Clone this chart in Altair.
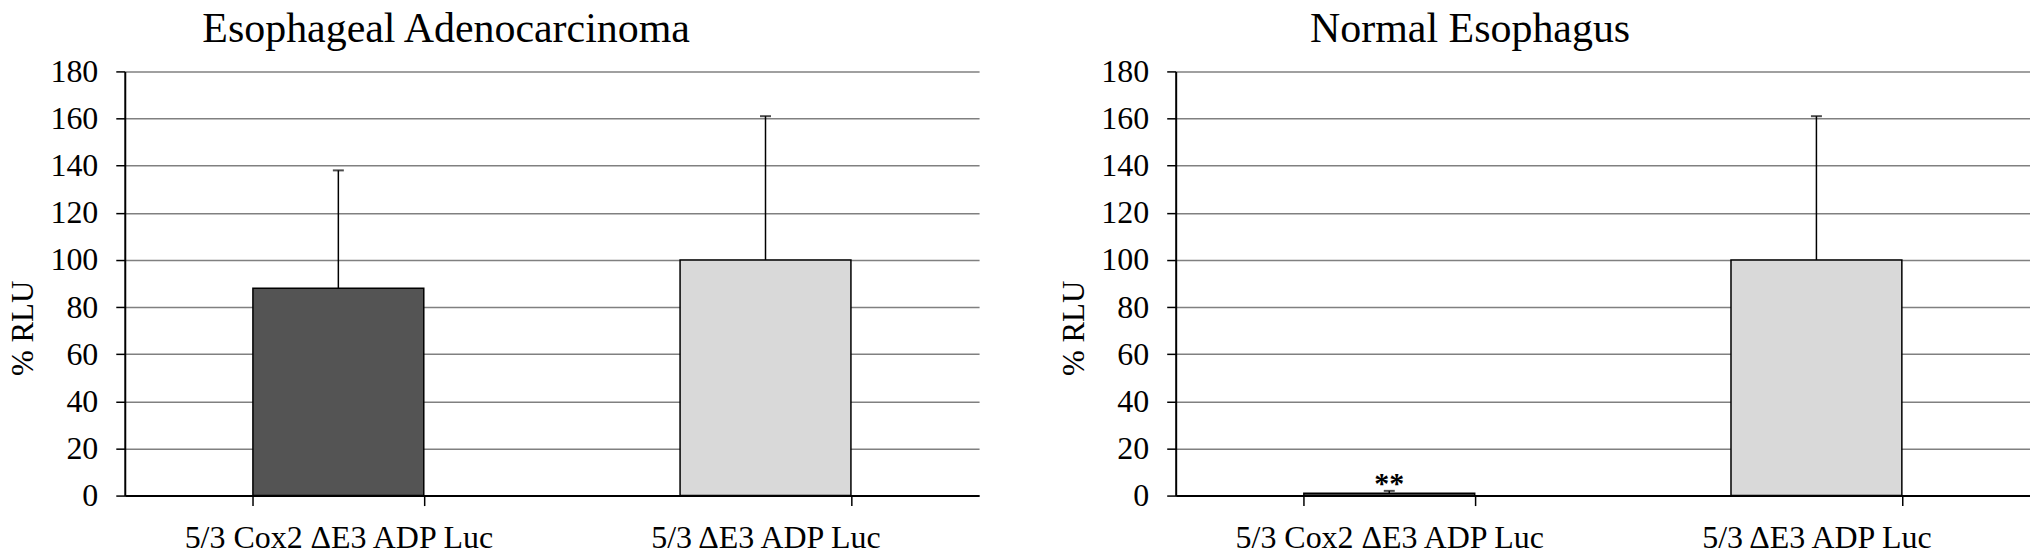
import altair as alt
import pandas as pd

categories = ["5/3 Cox2 \u0394E3 ADP Luc", "5/3 \u0394E3 ADP Luc"]
panel_titles = ["Esophageal Adenocarcinoma", "Normal Esophagus"]
adeno_values = [88, 100]
adeno_err = [50, 61]
normal_values = [1, 100]
normal_err = [1, 61]
adeno_marks = ["", ""]
normal_marks = ["**", ""]
bar_colors = ["#545454", "#d9d9d9"]
y_ticks = [0, 20, 40, 60, 80, 100, 120, 140, 160, 180]

FONT = "Liberation Serif, Times New Roman, Times, serif"


def panel(title, values, errs, marks, title_dx):
    df = pd.DataFrame({
        "cat": categories,
        "value": values,
        "top": [v + e for v, e in zip(values, errs)],
        "mark": marks,
    })
    base = alt.Chart(df)
    x = alt.X(
        "cat:N", sort=categories,
        scale=alt.Scale(paddingInner=0.6, paddingOuter=0.3),
        axis=alt.Axis(title=None, labelAngle=0, tickBand="extent", grid=False,
                      domainColor="black", domainWidth=2, tickColor="black",
                      tickWidth=1.5, tickSize=10, labelFontSize=32, labelLimit=0,
                      labelPadding=17, labelColor="black", labelFont=FONT),
    )
    y = alt.Y(
        "value:Q",
        scale=alt.Scale(domain=[0, 180], nice=False),
        axis=alt.Axis(values=y_ticks, title="% RLU", titleFont=FONT,
                      titleFontSize=31, titleFontWeight="normal", titleColor="black",
                      titlePadding=10, titleY=257, titleAlign="center",
                      labelFont=FONT, labelFontSize=32,
                      labelColor="black", labelPadding=18, tickSize=9,
                      tickColor="black", tickWidth=1.5, domainColor="black",
                      domainWidth=2, grid=True, gridColor="#808080", gridWidth=1.5),
    )
    bars = base.mark_bar(stroke="black", strokeWidth=1.5).encode(
        x=x, y=y,
        color=alt.Color("cat:N", scale=alt.Scale(domain=categories, range=bar_colors), legend=None),
    )
    rule = base.mark_rule(color="black", strokeWidth=1.5).encode(
        x=alt.X("cat:N", sort=categories), y="value:Q", y2="top:Q"
    )
    cap = base.mark_tick(color="black", size=11, thickness=2).encode(
        x=alt.X("cat:N", sort=categories), y="top:Q"
    )
    txt = base.mark_text(font=FONT, fontSize=30, fontWeight="bold", baseline="alphabetic",
                         align="center", dy=2, color="black").encode(
        x=alt.X("cat:N", sort=categories), y="top:Q", text="mark:N"
    )
    return alt.layer(bars, rule, cap, txt).properties(
        width=856, height=425,
        title=alt.TitleParams(title, font=FONT, fontSize=42, fontWeight="normal",
                              color="black", anchor="middle", frame="group",
                              dx=title_dx, offset=4),
    )


left = panel(panel_titles[0], adeno_values, adeno_err, adeno_marks, -106)
right = panel(panel_titles[1], normal_values, normal_err, normal_marks, -133)

chart = alt.hconcat(left, right, spacing=80).properties(
    padding=0, background="white"
).configure_view(stroke=None)

chart.save("out.html", embed_options={"renderer": "svg", "actions": False})
